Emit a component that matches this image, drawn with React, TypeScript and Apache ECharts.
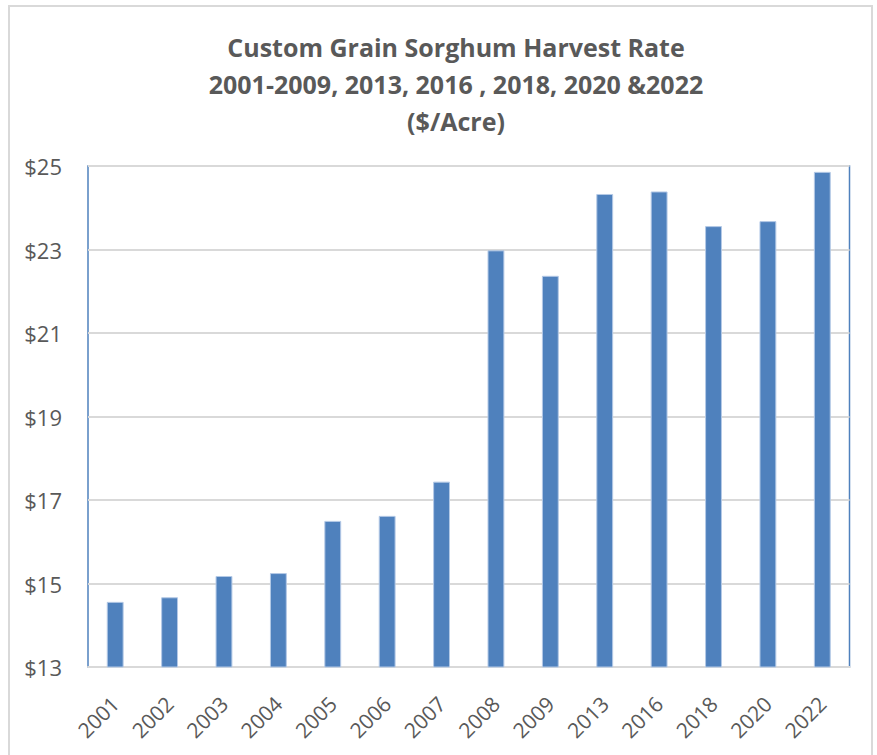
import React, { useEffect, useRef } from "react";
import * as echarts from "echarts";

const categories = ["2001", "2002", "2003", "2004", "2005", "2006", "2007", "2008", "2009", "2013", "2016", "2018", "2020", "2022"];
const rates = [14.56, 14.67, 15.18, 15.25, 16.5, 16.62, 17.44, 22.98, 22.37, 24.33, 24.39, 23.56, 23.68, 24.86];
const titleLines = ["Custom Grain Sorghum Harvest Rate", "2001-2009, 2013, 2016 , 2018, 2020 &2022", "($/Acre)"];
const yMin = 13;
const yMax = 25;
const yStep = 2;

const FONT = "'Open Sans', 'Noto Sans', sans-serif";

export default function App() {
  const ref = useRef<HTMLDivElement>(null);
  useEffect(() => {
    if (!ref.current) return;
    const chart = echarts.init(ref.current, null, { renderer: "svg" });
    chart.setOption({
      animation: false,
      backgroundColor: "#ffffff",
      graphic: [
        {
          type: "rect",
          shape: { x: 9, y: 6, width: 863, height: 760 },
          style: { fill: "none", stroke: "#d9d9d9", lineWidth: 2 },
          silent: true,
        },
      ],
      title: {
        text: titleLines.join("\n"),
        left: 451,
        top: 23,
        textAlign: "center",
        textStyle: {
          fontFamily: FONT,
          fontSize: 25,
          fontWeight: "bold",
          color: "#595959",
          lineHeight: 37,
        },
      },
      grid: {
        left: 88,
        right: 27.5,
        top: 166,
        bottom: 88,
        show: true,
        borderColor: "#4F81BD",
        borderWidth: 1.5,
        backgroundColor: "transparent",
      },
      xAxis: {
        type: "category",
        data: categories,
        axisLine: { show: true, lineStyle: { color: "#d9d9d9", width: 2 } },
        axisTick: { show: false },
        axisLabel: {
          rotate: 45,
          fontFamily: FONT,
          fontSize: 21,
          color: "#595959",
          margin: 33,
          interval: 0,
        },
      },
      yAxis: {
        type: "value",
        min: yMin,
        max: yMax,
        interval: yStep,
        axisLine: { show: false },
        axisTick: { show: false },
        splitLine: { show: true, lineStyle: { color: "#d9d9d9", width: 2 } },
        axisLabel: {
          formatter: "${value}",
          fontFamily: FONT,
          fontSize: 22,
          color: "#595959",
          margin: 26,
        },
      },
      series: [
        {
          type: "bar",
          data: rates,
          barWidth: "31%",
          itemStyle: { color: "#4F81BD", borderColor: "#b4c9e6", borderWidth: 1 },
        },
      ],
    });
    return () => chart.dispose();
  }, []);
  return (
    <div
      ref={ref}
      style={{ position: "absolute", left: 0, top: 0, width: 877, height: 755 }}
    />
  );
}
